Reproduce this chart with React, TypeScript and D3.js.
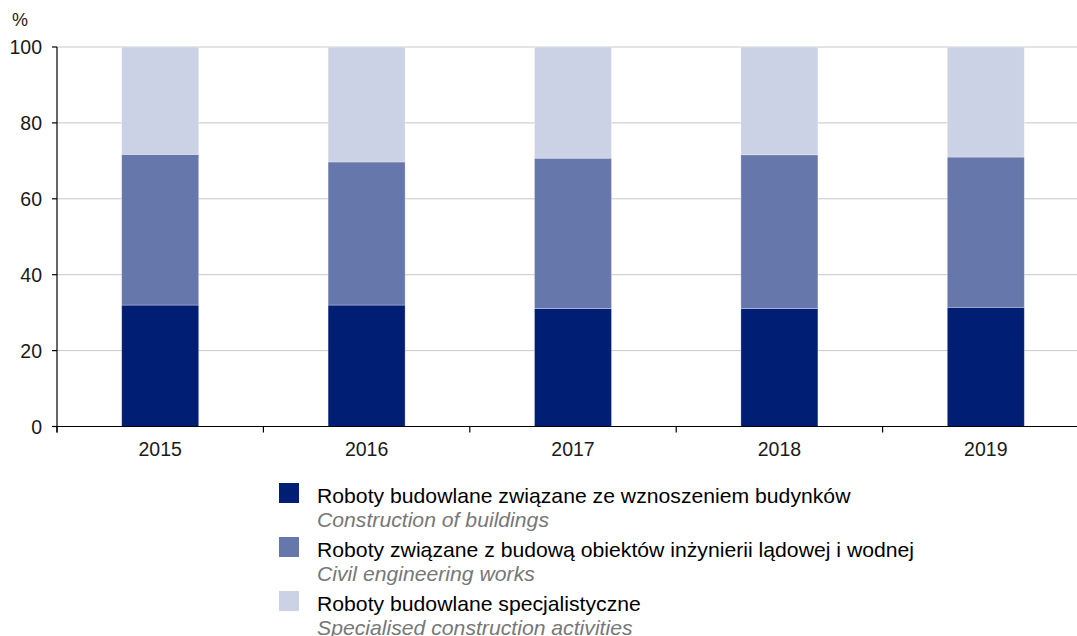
import React from 'react';
import * as d3 from 'd3';

// values (shares in %)
const years = ['2015', '2016', '2017', '2018', '2019'];
const buildings = [32.0, 32.0, 31.1, 31.1, 31.4];
const civil = [39.7, 37.7, 39.6, 40.5, 39.6];
const specialised = [28.3, 30.3, 29.3, 28.4, 29.0];
const yTicks = [0, 20, 40, 60, 80, 100];

const seriesKeys = ['buildings', 'civil', 'specialised'];
const seriesColors = ['#001e73', '#6677ab', '#ccd2e5'];
const legendPl = [
  'Roboty budowlane związane ze wznoszeniem budynków',
  'Roboty związane z budową obiektów inżynierii lądowej i wodnej',
  'Roboty budowlane specjalistyczne',
];
const legendEn = [
  'Construction of buildings',
  'Civil engineering works',
  'Specialised construction activities',
];

const W = 1077;
const H = 636;
const margin = { left: 57, top: 47, bottom: 426.5 };
const font = '"Liberation Sans", Arial, sans-serif';

export default function App() {
  const rows = years.map((y, i) => ({
    year: y,
    buildings: buildings[i],
    civil: civil[i],
    specialised: specialised[i],
  }));

  const x = d3.scaleBand<string>()
    .domain(years)
    .range([margin.left, margin.left + 5 * 206.4])
    .paddingInner(0.627)
    .paddingOuter(0.3135);

  const y = d3.scaleLinear().domain([0, 100]).range([margin.bottom, margin.top]);

  const stacked = d3.stack<any>().keys(seriesKeys)(rows);

  const step = x.step();
  const boundaries = d3.range(years.length + 1).map(i => margin.left + i * step);

  return (
    <div style={{ position: 'absolute', left: 0, top: 0 }}>
      <svg width={W} height={H} style={{ display: 'block', fontFamily: font }}>
        <rect width={W} height={H} fill="#fff" />

        {/* grid */}
        {yTicks.filter(t => t > 0).map(t => (
          <line key={t} x1={margin.left} x2={W} y1={y(t)} y2={y(t)} stroke="#c8c8c8" strokeWidth={1} />
        ))}

        {/* bars */}
        {stacked.map((s, si) => (
          <g key={s.key} fill={seriesColors[si]}>
            {s.map((d, i) => (
              <rect
                key={i}
                x={x(years[i])}
                width={x.bandwidth()}
                y={y(d[1])}
                height={y(d[0]) - y(d[1])}
                stroke="#ffffff"
                strokeOpacity={0.35}
                strokeWidth={0.8}
              />
            ))}
          </g>
        ))}

        {/* y axis */}
        <line x1={margin.left} x2={margin.left} y1={y(100)} y2={margin.bottom + 6} stroke="#000" strokeWidth={1.2} />
        {yTicks.map(t => (
          <g key={t}>
            <line x1={margin.left - 5} x2={margin.left} y1={y(t)} y2={y(t)} stroke="#000" strokeWidth={1.2} />
            <text x={42} y={y(t)} dy="0.36em" textAnchor="end" fontSize={19.5} fill="#1a1a1a">{t}</text>
          </g>
        ))}
        <text x={12} y={26} fontSize={18} fill="#1a1a1a">%</text>

        {/* x axis */}
        <line x1={margin.left} x2={W} y1={margin.bottom} y2={margin.bottom} stroke="#000" strokeWidth={1.2} />
        {boundaries.map((b, i) => (
          <line key={i} x1={b} x2={b} y1={margin.bottom} y2={margin.bottom + 6} stroke="#000" strokeWidth={1.2} />
        ))}
        {years.map(yr => (
          <text key={yr} x={(x(yr) as number) + x.bandwidth() / 2} y={456} textAnchor="middle" fontSize={19.5} fill="#1a1a1a">{yr}</text>
        ))}

        {/* legend */}
        {seriesKeys.map((k, i) => (
          <g key={k} transform={`translate(279, ${483 + i * 54})`}>
            <rect width={20} height={20} fill={seriesColors[i]} />
            <g transform="translate(38, 0) scale(1.06, 1)">
              <text x={0} y={20} fontSize={20} fill="#000">{legendPl[i]}</text>
              <text x={0} y={44} fontSize={20} fontStyle="italic" fill="#777">{legendEn[i]}</text>
            </g>
          </g>
        ))}
      </svg>
    </div>
  );
}
